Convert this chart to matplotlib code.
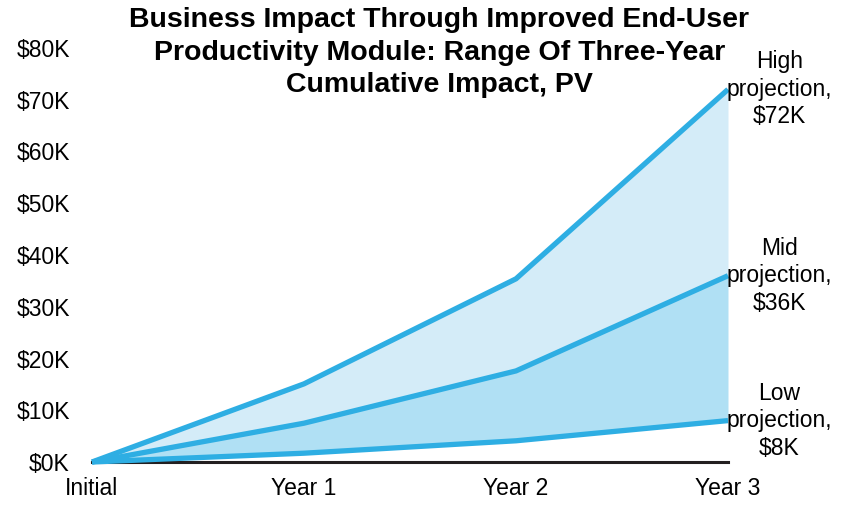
import numpy as np
import matplotlib.pyplot as plt

plt.rcParams['font.family'] = ['Liberation Sans', 'DejaVu Sans']

# data (in $K)
periods = ['Initial', 'Year 1', 'Year 2', 'Year 3']
high = [0, 15.1, 35.4, 72]
mid = [0, 7.5, 17.6, 36]
low = [0, 1.7, 4.1, 8]
labels = ['High\nprojection,\n$72K', 'Mid\nprojection,\n$36K', 'Low\nprojection,\n$8K']
yticks = [0, 10, 20, 30, 40, 50, 60, 70, 80]
title_lines = ['Business Impact Through Improved End-User',
               'Productivity Module: Range Of Three-Year',
               'Cumulative Impact, PV']

line_col = '#2eaee3'

fig = plt.figure(figsize=(8.53, 5.05), dpi=100)
ax = fig.add_axes([92 / 853, 1 - 462 / 505, (728 - 92) / 853, (462 - 48) / 505])

x = np.arange(len(periods))
ax.fill_between(x, mid, high, color='#d4ecf8', lw=0)
ax.fill_between(x, low, mid, color='#b0e0f4', lw=0)
ax.axhline(0, color='#231f20', lw=2.2, zorder=2, clip_on=False)
for s in (high, mid, low):
    ax.plot(x, s, color=line_col, lw=3.8, solid_capstyle='butt', zorder=3, clip_on=False)

for s, lab in zip((high, mid, low), labels):
    ax.annotate(lab, (x[-1], s[-1]), xytext=(37, 0), textcoords='offset points',
                ha='center', va='center', fontsize=16.5, linespacing=1.25,
                annotation_clip=False)

ax.set_xlim(0, 3)
ax.set_ylim(0, 80)
ax.set_xticks(x)
ax.set_xticklabels(periods, fontsize=16.5)
ax.set_yticks(yticks)
ax.set_yticklabels([f'${v}K' for v in yticks], fontsize=16.5)
ax.tick_params(length=0)
ax.tick_params(axis='x', pad=11)
ax.tick_params(axis='y', pad=16)
for sp in ax.spines.values():
    sp.set_visible(False)

# title as separate lines so each sits tight
for i, t in enumerate(title_lines):
    fig.text(0.515, 1 - (20 + 32.5 * i) / 505, t, ha='center', va='center',
             fontsize=20.5, fontweight='bold')

fig.savefig('out.png', dpi=100)
